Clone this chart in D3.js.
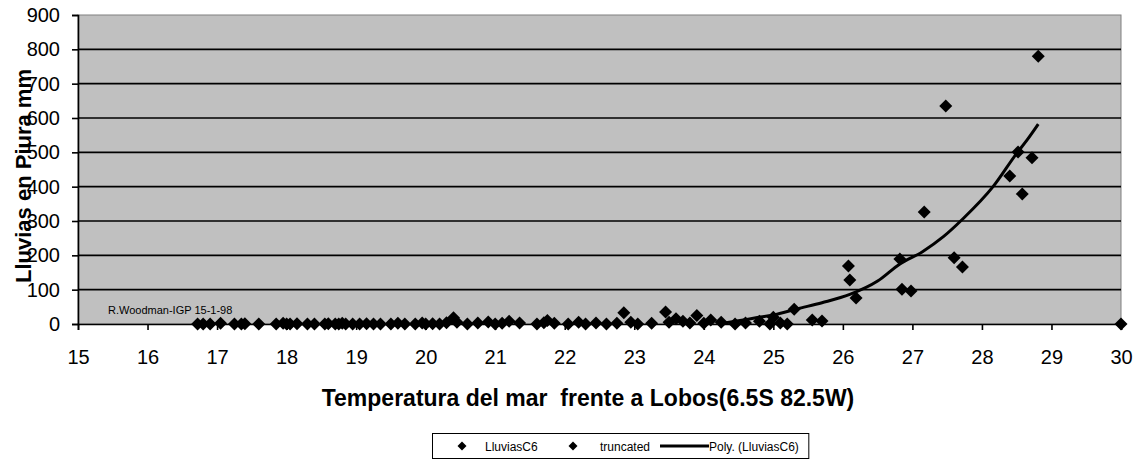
<!DOCTYPE html>
<html>
<head>
<meta charset="utf-8">
<script src="https://cdn.jsdelivr.net/npm/d3@7"></script>
<style>
  html, body { margin: 0; padding: 0; background: #fff; }
  svg { display: block; font-family: "Liberation Sans", Arial, sans-serif; }
</style>
</head>
<body>
<svg id="chart" width="1135" height="460"></svg>
<script>
// ---- data ----
const xTicks = [15,16,17,18,19,20,21,22,23,24,25,26,27,28,29,30];
const yTicks = [0,100,200,300,400,500,600,700,800,900];

const lluviasTemp = [
  16.72,16.8,16.9,17.05,17.25,17.35,17.4,17.6,17.85,17.95,18.0,18.05,18.15,18.3,18.4,18.55,18.6,18.7,18.75,18.8,
  18.85,18.95,19.05,19.15,19.25,19.35,19.5,19.6,19.7,19.85,19.95,20.0,20.1,20.2,20.3,20.4,20.45,20.6,20.75,20.9,
  21.0,21.1,21.2,21.35,21.6,21.7,21.75,21.85,22.05,22.2,22.3,22.45,22.6,22.75,22.85,22.95,23.05,23.25,23.45,23.5,
  23.6,23.7,23.8,23.9,24.0,24.1,24.25,24.45,24.6,24.8,24.95,25.0,25.1,25.2,25.3,25.56,25.7,
  26.08,26.1,26.19,26.82,26.85,26.98,27.17,27.48,27.6,27.72,28.4,28.52,28.58,28.72,28.81
];
const lluviasMm = [
  0,0,0,2,0,0,1,0,0,2,0,0,1,0,0,0,1,0,0,2,
  0,0,0,1,0,0,0,2,0,0,3,0,1,0,4,18,5,0,3,6,
  0,2,8,3,0,4,10,2,0,5,0,3,0,2,33,5,0,2,35,5,
  15,8,3,25,2,12,5,0,3,8,0,20,3,0,43,12,9,
  169,128,76,189,101,96,326,635,193,166,431,501,379,484,780
];

const truncTemp = [30.0];
const truncMm = [0];

const polyTemp = [24.3,24.52,24.75,25.0,25.34,25.7,26.1,26.5,26.82,27.14,27.45,27.72,28.16,28.5,28.65,28.81];
const polyMm   = [3,10,18,26,44,62,86,125,175,210,255,305,400,497,536,582];

// ---- layout ----
const svg = d3.select("#chart");
const plot = {left: 78, right: 1121, top: 15, bottom: 324};

const x = d3.scaleLinear().domain([15, 30]).range([plot.left, plot.right]);
const y = d3.scaleLinear().domain([0, 900]).range([plot.bottom, plot.top]);

// plot background
svg.append("rect")
  .attr("x", plot.left).attr("y", plot.top)
  .attr("width", plot.right - plot.left).attr("height", plot.bottom - plot.top)
  .attr("fill", "#c0c0c0").attr("stroke", "#808080").attr("stroke-width", 1);

// gridlines
svg.append("g").selectAll("line")
  .data(yTicks.filter(d => d > 0 && d < 900))
  .join("line")
  .attr("x1", plot.left).attr("x2", plot.right)
  .attr("y1", d => y(d)).attr("y2", d => y(d))
  .attr("stroke", "#000").attr("stroke-width", 1.6);

// axes
const xAxis = svg.append("g")
  .attr("transform", `translate(0,${plot.bottom})`)
  .call(d3.axisBottom(x).tickValues(xTicks).tickFormat(d3.format("d")).tickSize(6).tickPadding(20));
const yAxis = svg.append("g")
  .attr("transform", `translate(${plot.left},0)`)
  .call(d3.axisLeft(y).tickValues(yTicks).tickFormat(d3.format("d")).tickSize(6).tickPadding(12));

[xAxis, yAxis].forEach(g => {
  g.select(".domain").attr("stroke", "#000").attr("stroke-width", 1.6);
  g.selectAll(".tick line").attr("stroke", "#000").attr("stroke-width", 1.6);
  g.selectAll(".tick text").attr("fill", "#000").style("font-size", "20px")
    .style("font-family", '"Liberation Sans", Arial, sans-serif');
});

// annotation
svg.append("text")
  .attr("x", 108).attr("y", y(28))
  .style("font-size", "11px").attr("fill", "#000")
  .text("R.Woodman-IGP 15-1-98");

// diamond shape
const diamond = r => `M0,${-r}L${r},0L0,${r}L${-r},0Z`;

// trend line
const line = d3.line().x(d => x(d[0])).y(d => y(d[1])).curve(d3.curveMonotoneX);
svg.append("path")
  .datum(polyTemp.map((t, i) => [t, polyMm[i]]))
  .attr("d", line)
  .attr("fill", "none").attr("stroke", "#000").attr("stroke-width", 3);

// points
svg.append("g").selectAll("path")
  .data(lluviasTemp.map((t, i) => [t, lluviasMm[i]]))
  .join("path")
  .attr("transform", d => `translate(${x(d[0])},${y(d[1])})`)
  .attr("d", diamond(6.5))
  .attr("fill", "#000");

svg.append("g").selectAll("path")
  .data(truncTemp.map((t, i) => [t, truncMm[i]]))
  .join("path")
  .attr("transform", d => `translate(${x(d[0])},${y(d[1])})`)
  .attr("d", diamond(6.5))
  .attr("fill", "#000");

// axis titles
svg.append("text")
  .attr("x", 588).attr("y", 406)
  .attr("text-anchor", "middle")
  .attr("xml:space", "preserve")
  .style("font-size", "23px").style("font-weight", "bold")
  .text("Temperatura del mar  frente a Lobos(6.5S 82.5W)");

svg.append("text")
  .attr("transform", `translate(31,176) rotate(-90)`)
  .attr("text-anchor", "middle")
  .style("font-size", "22px").style("font-weight", "bold")
  .text("Lluvias en Piura mm");

// legend
const lg = svg.append("g");
const lgBox = lg.append("rect")
  .attr("x", 432.5).attr("y", 433.5).attr("height", 25)
  .attr("fill", "#fff").attr("stroke", "#000").attr("stroke-width", 1);
const ly = 447;
lg.append("path").attr("transform", `translate(462,${ly - 1})`).attr("d", diamond(4.5)).attr("fill", "#000");
lg.append("text").attr("x", 485).attr("y", ly + 4).style("font-size", "12px").text("LluviasC6");
lg.append("path").attr("transform", `translate(573,${ly - 1})`).attr("d", diamond(4.5)).attr("fill", "#000");
lg.append("text").attr("x", 600).attr("y", ly + 4).style("font-size", "12px").text("truncated");
lg.append("line").attr("x1", 660).attr("x2", 709).attr("y1", ly - 1).attr("y2", ly - 1)
  .attr("stroke", "#000").attr("stroke-width", 3);
const polyText = lg.append("text").attr("x", 709).attr("y", ly + 4).style("font-size", "12px").text("Poly. (LluviasC6)");
const tw = polyText.node().getComputedTextLength();
lgBox.attr("width", 709 + tw + 10 - 432.5);
</script>
</body>
</html>
